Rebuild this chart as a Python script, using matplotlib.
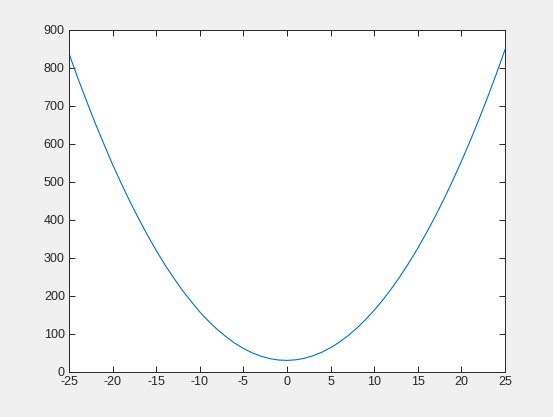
import matplotlib
matplotlib.use("Agg")
import matplotlib.pyplot as plt

# values
x_vals = list(range(-25, 26))
y_vals = [838, 774, 714, 655, 600, 546, 496, 448, 403, 360,
          320, 282, 248, 215, 186, 158, 134, 112, 93, 76,
          62, 50.5, 41.6, 35.3, 31.6, 30.5, 32, 36.1, 42.8, 52.1,
          64, 78.5, 95.6, 115.3, 137.6, 162.5, 190, 220.1, 252.8, 288.1,
          326, 366.5, 409.6, 455.3, 503.6, 554.5, 608, 664.1, 722.8, 784.1,
          848]
x_ticks = list(range(-25, 30, 5))
y_ticks = list(range(0, 1000, 100))

plt.rcParams['font.family'] = ['Liberation Sans', 'DejaVu Sans']
plt.rcParams['axes.unicode_minus'] = False

fig = plt.figure(figsize=(5.53, 4.17), dpi=100, facecolor='#f0f0f0')
ax = fig.add_axes([69 / 553, 45 / 417, 436 / 553, 342 / 417])
ax.plot(x_vals, y_vals, color='#0072BD', lw=0.8)

ax.set_xlim(-25, 25)
ax.set_ylim(0, 900)
ax.set_xticks(x_ticks)
ax.set_yticks(y_ticks)
ax.tick_params(direction='in', length=4, width=0.7, colors='#262626',
               labelsize=9, top=True, right=True, pad=3)
for s in ax.spines.values():
    s.set_color('#262626')
    s.set_linewidth(0.7)

fig.savefig('out.png', dpi=100, facecolor=fig.get_facecolor())
